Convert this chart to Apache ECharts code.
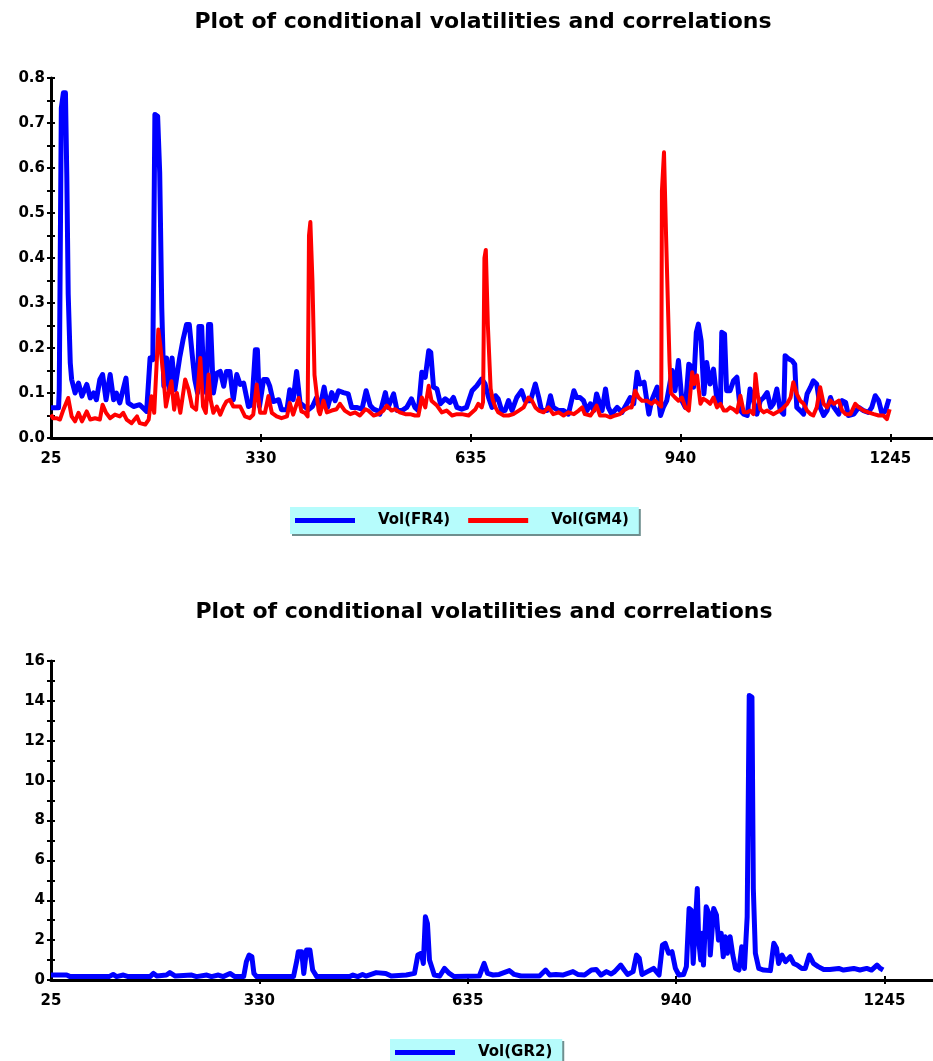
<!DOCTYPE html>
<html>
<head>
<meta charset="utf-8">
<title>Plot of conditional volatilities and correlations</title>
<script src="https://cdn.jsdelivr.net/npm/echarts@6/dist/echarts.min.js"></script>
<style>
  html, body { margin: 0; padding: 0; background: #ffffff; }
  #chart { width: 933px; height: 1061px; }
</style>
</head>
<body>
<div id="chart"></div>
<script>
// observation index on x, conditional volatility on y
const xLabelValues = [25, 330, 635, 940, 1245];
const xTickValues = [330, 635, 940, 1245];

// Vol(FR4) - upper panel, blue
const fr4 = [
  [25,0.067],[36,0.067],[37,0.107],[40,0.733],[43,0.767],[46,0.767],[48,0.58],[50,0.32],[53,0.167],[55,0.13],
  [60,0.1],[65,0.122],[70,0.093],[77,0.119],[82,0.089],[87,0.1],[91,0.085],[96,0.13],[100,0.141],[105,0.085],
  [111,0.141],[116,0.085],[120,0.1],[125,0.078],[134,0.133],[137,0.078],[145,0.07],[154,0.074],[164,0.059],[169,0.178],
  [173,0.174],[176,0.719],[180,0.715],[183,0.589],[186,0.289],[189,0.115],[193,0.178],[197,0.107],[201,0.178],[205,0.107],
  [212,0.178],[217,0.219],[222,0.252],[226,0.252],[230,0.189],[234,0.13],[238,0.1],[240,0.248],[244,0.248],[247,0.13],
  [251,0.1],[254,0.252],[257,0.252],[261,0.1],[266,0.144],[271,0.148],[276,0.115],[280,0.148],[285,0.148],[290,0.085],
  [295,0.141],[300,0.119],[305,0.122],[312,0.07],[317,0.074],[322,0.196],[325,0.196],[328,0.07],[334,0.13],[339,0.13],
  [343,0.115],[348,0.081],[356,0.085],[360,0.063],[368,0.063],[372,0.107],[377,0.085],[382,0.148],[387,0.078],[399,0.063],
  [405,0.07],[411,0.09],[416,0.068],[422,0.113],[427,0.068],[433,0.101],[438,0.083],[443,0.105],[450,0.101],[457,0.098],
  [462,0.068],[469,0.068],[477,0.064],[483,0.105],[489,0.072],[494,0.064],[499,0.061],[503,0.053],[511,0.101],[515,0.068],
  [523,0.098],[528,0.061],[535,0.061],[542,0.068],[549,0.087],[554,0.068],[559,0.061],[564,0.146],[569,0.135],[574,0.194],
  [577,0.19],[581,0.113],[586,0.109],[591,0.076],[598,0.087],[605,0.079],[610,0.09],[615,0.068],[622,0.064],[629,0.068],
  [637,0.105],[644,0.116],[651,0.131],[656,0.12],[661,0.09],[666,0.068],[671,0.094],[675,0.087],[680,0.061],[685,0.061],
  [690,0.083],[695,0.061],[702,0.09],[709,0.105],[714,0.083],[722,0.083],[729,0.12],[734,0.09],[738,0.061],[746,0.061],
  [751,0.094],[755,0.068],[763,0.061],[770,0.061],[777,0.053],[785,0.105],[789,0.09],[794,0.09],[799,0.083],[804,0.061],
  [809,0.076],[814,0.061],[818,0.098],[826,0.061],[831,0.109],[835,0.068],[840,0.053],[848,0.068],[855,0.057],[862,0.076],
  [867,0.09],[872,0.076],[877,0.146],[881,0.12],[887,0.124],[894,0.053],[898,0.083],[906,0.113],[911,0.05],[915,0.068],
  [920,0.083],[928,0.15],[932,0.105],[937,0.172],[942,0.083],[947,0.068],[952,0.164],[957,0.157],[959,0.113],[963,0.235],
  [966,0.253],[970,0.216],[974,0.098],[978,0.168],[983,0.12],[988,0.153],[993,0.083],[998,0.076],[1000,0.235],[1004,0.231],
  [1007,0.105],[1012,0.105],[1017,0.127],[1022,0.135],[1027,0.061],[1032,0.053],[1037,0.05],[1041,0.109],[1046,0.083],[1051,0.053],
  [1056,0.083],[1061,0.09],[1066,0.101],[1071,0.068],[1075,0.076],[1080,0.109],[1085,0.061],[1090,0.053],[1092,0.183],[1097,0.176],
  [1102,0.172],[1106,0.164],[1109,0.068],[1114,0.061],[1119,0.053],[1124,0.098],[1129,0.113],[1133,0.127],[1138,0.12],[1143,0.068],
  [1148,0.05],[1153,0.061],[1158,0.09],[1163,0.068],[1170,0.053],[1175,0.083],[1180,0.079],[1184,0.05],[1192,0.053],[1199,0.068],
  [1206,0.061],[1213,0.057],[1218,0.068],[1223,0.094],[1228,0.083],[1233,0.053],[1238,0.061],[1243,0.087]
];

// Vol(GM4) - upper panel, red
const gm4 = [
  [25,0.052],[28,0.044],[33,0.044],[38,0.041],[43,0.063],[50,0.089],[55,0.048],[60,0.037],[65,0.056],[70,0.037],
  [77,0.059],[82,0.041],[89,0.044],[96,0.041],[100,0.074],[105,0.056],[111,0.044],[118,0.052],[125,0.048],[130,0.056],
  [135,0.041],[142,0.033],[150,0.048],[154,0.033],[162,0.03],[167,0.041],[171,0.093],[175,0.056],[181,0.241],[184,0.204],
  [188,0.144],[192,0.07],[196,0.1],[200,0.126],[204,0.063],[208,0.1],[213,0.056],[220,0.13],[225,0.107],[230,0.07],
  [236,0.063],[242,0.178],[246,0.07],[250,0.056],[254,0.141],[257,0.085],[261,0.056],[266,0.07],[271,0.052],[276,0.07],
  [280,0.081],[285,0.085],[290,0.07],[300,0.07],[307,0.048],[314,0.044],[319,0.052],[324,0.119],[329,0.056],[336,0.056],
  [341,0.093],[346,0.056],[353,0.048],[360,0.044],[368,0.048],[372,0.078],[377,0.052],[385,0.089],[389,0.059],[394,0.056],
  [398,0.048],[400,0.45],[402,0.48],[405,0.35],[408,0.14],[411,0.1],[414,0.06],[416,0.053],[421,0.083],[426,0.057],
  [433,0.061],[440,0.064],[445,0.076],[452,0.061],[460,0.053],[467,0.057],[474,0.05],[482,0.064],[486,0.061],[494,0.05],
  [501,0.053],[508,0.061],[513,0.072],[520,0.061],[525,0.064],[532,0.057],[540,0.053],[547,0.053],[554,0.05],[559,0.05],
  [564,0.09],[569,0.068],[574,0.116],[578,0.083],[586,0.072],[593,0.057],[600,0.061],[608,0.05],[615,0.053],[622,0.053],
  [632,0.05],[642,0.064],[646,0.076],[651,0.068],[653,0.08],[655,0.4],[657,0.418],[660,0.25],[664,0.11],[667,0.085],
  [671,0.068],[675,0.057],[683,0.05],[690,0.05],[697,0.053],[705,0.061],[712,0.068],[719,0.09],[724,0.083],[729,0.068],
  [734,0.061],[741,0.057],[748,0.068],[755,0.053],[763,0.057],[770,0.05],[777,0.057],[785,0.053],[792,0.061],[797,0.068],
  [801,0.053],[809,0.05],[814,0.061],[818,0.072],[823,0.05],[831,0.05],[838,0.046],[845,0.05],[852,0.053],[857,0.061],
  [865,0.068],[869,0.068],[874,0.105],[879,0.09],[884,0.083],[891,0.083],[898,0.076],[903,0.083],[908,0.076],[912,0.07],
  [913,0.55],[916,0.635],[919,0.45],[922,0.28],[924,0.17],[926,0.1],[932,0.09],[937,0.083],[942,0.09],[947,0.068],
  [952,0.061],[957,0.146],[960,0.12],[964,0.139],[969,0.076],[973,0.087],[978,0.083],[983,0.076],[988,0.09],[993,0.068],
  [998,0.076],[1003,0.061],[1007,0.061],[1012,0.068],[1017,0.064],[1022,0.057],[1027,0.094],[1032,0.057],[1037,0.057],[1041,0.061],
  [1046,0.053],[1049,0.142],[1052,0.098],[1056,0.064],[1061,0.057],[1066,0.061],[1070,0.057],[1075,0.053],[1080,0.057],[1085,0.061],
  [1090,0.068],[1095,0.076],[1100,0.09],[1104,0.124],[1109,0.098],[1114,0.083],[1119,0.076],[1124,0.061],[1129,0.053],[1133,0.05],
  [1138,0.068],[1143,0.113],[1148,0.076],[1153,0.068],[1158,0.083],[1163,0.076],[1170,0.083],[1175,0.061],[1180,0.053],[1187,0.053],
  [1194,0.076],[1199,0.068],[1206,0.061],[1213,0.057],[1221,0.053],[1228,0.05],[1235,0.05],[1240,0.042],[1244,0.064]
];

// Vol(GR2) - lower panel, blue
const gr2 = [
  [25,0.25],[48,0.25],[53,0.17],[110,0.17],[116,0.28],[121,0.17],[131,0.25],[138,0.17],[170,0.17],[175,0.33],
  [180,0.2],[194,0.25],[199,0.37],[207,0.2],[231,0.25],[238,0.17],[253,0.25],[260,0.17],[270,0.25],[277,0.17],
  [287,0.33],[294,0.17],[307,0.17],[311,0.92],[315,1.25],[319,1.17],[322,0.33],[326,0.17],[380,0.17],[385,1.0],
  [387,1.42],[392,1.42],[395,0.33],[399,1.5],[404,1.5],[408,0.5],[414,0.17],[462,0.17],[467,0.25],[474,0.17],
  [481,0.28],[486,0.2],[501,0.37],[515,0.33],[523,0.2],[545,0.25],[557,0.33],[562,1.25],[567,1.34],[570,0.83],
  [573,3.17],[576,2.84],[579,1.0],[583,0.58],[586,0.25],[594,0.2],[601,0.58],[608,0.33],[615,0.17],[652,0.2],
  [659,0.83],[664,0.33],[672,0.25],[681,0.28],[696,0.47],[703,0.28],[713,0.2],[740,0.2],[749,0.5],[755,0.25],
  [764,0.28],[774,0.25],[789,0.42],[796,0.28],[806,0.25],[816,0.5],[823,0.53],[830,0.25],[838,0.42],[845,0.3],
  [850,0.42],[859,0.75],[864,0.5],[869,0.28],[877,0.42],[882,1.25],[886,1.1],[890,0.28],[898,0.42],[907,0.58],
  [915,0.25],[920,1.75],[924,1.84],[929,1.34],[934,1.42],[939,0.58],[944,0.25],[951,0.28],[955,0.67],[959,3.59],
  [962,3.5],[965,0.83],[968,2.75],[971,4.59],[973,2.0],[976,1.0],[978,2.34],[980,0.75],[984,3.67],[988,3.34],
  [990,1.25],[995,3.59],[999,3.26],[1002,2.0],[1006,2.34],[1009,1.17],[1012,2.17],[1015,1.34],[1019,2.17],[1023,1.25],
  [1027,0.58],[1032,0.5],[1036,1.67],[1040,0.58],[1044,3.17],[1047,14.27],[1051,14.19],[1053,4.59],[1056,1.34],[1061,0.58],
  [1068,0.5],[1078,0.47],[1083,1.84],[1087,1.59],[1090,0.83],[1095,1.25],[1100,0.92],[1107,1.17],[1112,0.83],[1117,0.75],
  [1124,0.58],[1129,0.58],[1135,1.25],[1141,0.83],[1148,0.67],[1156,0.53],[1165,0.53],[1178,0.58],[1185,0.5],[1200,0.58],
  [1209,0.5],[1219,0.58],[1226,0.5],[1234,0.75],[1239,0.58],[1243,0.5]
];

const FONT = '"DejaVu Sans", "Liberation Sans", Arial, sans-serif';
const chart = echarts.init(document.getElementById('chart'));

// x axis; the "inner" copy only draws the tick halves inside the plot
function xAx(grid, max, inner) {
  return {
    type: 'value', gridIndex: grid, min: 25, max: max, position: 'bottom',
    axisLine: { show: !inner, onZero: false, lineStyle: { color: '#000', width: 3 } },
    axisTick: { show: true, inside: inner, length: 4, customValues: xTickValues, lineStyle: { color: '#000', width: 2 } },
    axisLabel: {
      show: !inner, customValues: xLabelValues, margin: 14,
      color: '#000', fontFamily: FONT, fontWeight: 'bold', fontSize: 15,
      formatter: function (v) { return String(v); }
    },
    splitLine: { show: false }
  };
}

function yAx(grid, max, step, labelStep, digits, inner) {
  return {
    type: 'value', gridIndex: grid, min: 0, max: max, interval: step, position: 'left',
    axisLine: { show: !inner, onZero: false, lineStyle: { color: '#000', width: 3 } },
    axisTick: { show: true, inside: inner, length: 4, lineStyle: { color: '#000', width: 2 } },
    axisLabel: {
      show: !inner, margin: 6, color: '#000', fontFamily: FONT, fontWeight: 'bold', fontSize: 15,
      formatter: function (v) {
        const k = Math.round(v / step);
        return k % labelStep === 0 ? v.toFixed(digits) : '';
      }
    },
    splitLine: { show: false }
  };
}

const legendBase = {
  orient: 'horizontal', icon: 'rect', itemWidth: 60, itemHeight: 5, itemGap: 18,
  backgroundColor: '#b6fcfc', borderWidth: 0,
  shadowColor: '#6f8f8f', shadowOffsetX: 2, shadowOffsetY: 2, shadowBlur: 0,
  padding: [6, 10, 6, 5],
  textStyle: { color: '#000', fontFamily: FONT, fontWeight: 'bold', fontSize: 15, padding: [0, 0, 0, 18] }
};

const titleStyle = { fontFamily: FONT, fontWeight: 'bold', fontSize: 22, color: '#000' };

const option = {
  animation: false,
  backgroundColor: '#ffffff',
  title: [
    { text: 'Plot of conditional volatilities and correlations', left: 478, top: 6, textAlign: 'center', textStyle: titleStyle },
    { text: 'Plot of conditional volatilities and correlations', left: 479, top: 596, textAlign: 'center', textStyle: titleStyle }
  ],
  legend: [
    Object.assign({}, legendBase, { data: ['Vol(FR4)', 'Vol(GM4)'], left: 290, top: 507 }),
    Object.assign({}, legendBase, { data: ['Vol(GR2)'], left: 390, top: 1039 })
  ],
  grid: [
    { left: 51, right: 0, top: 78, height: 360 },
    { left: 51, right: 0, top: 661, height: 319 }
  ],
  xAxis: [
    xAx(0, 1307, false), xAx(1, 1316, false),
    xAx(0, 1307, true), xAx(1, 1316, true)
  ],
  yAxis: [
    yAx(0, 0.8, 0.05, 2, 1, false), yAx(1, 16, 1, 2, 0, false),
    yAx(0, 0.8, 0.05, 2, 1, true), yAx(1, 16, 1, 2, 0, true)
  ],
  series: [
    { name: 'Vol(FR4)', type: 'line', xAxisIndex: 0, yAxisIndex: 0, data: fr4, showSymbol: false,
      color: '#0000ff', lineStyle: { color: '#0000ff', width: 5, join: 'round' }, z: 2 },
    { name: 'Vol(GM4)', type: 'line', xAxisIndex: 0, yAxisIndex: 0, data: gm4, showSymbol: false,
      color: '#ff0000', lineStyle: { color: '#ff0000', width: 4, join: 'round' }, z: 3 },
    { name: 'Vol(GR2)', type: 'line', xAxisIndex: 1, yAxisIndex: 1, data: gr2, showSymbol: false,
      color: '#0000ff', lineStyle: { color: '#0000ff', width: 5, join: 'round' }, z: 2 }
  ]
};

chart.setOption(option);
window.addEventListener('resize', function () { chart.resize(); });
</script>
</body>
</html>
